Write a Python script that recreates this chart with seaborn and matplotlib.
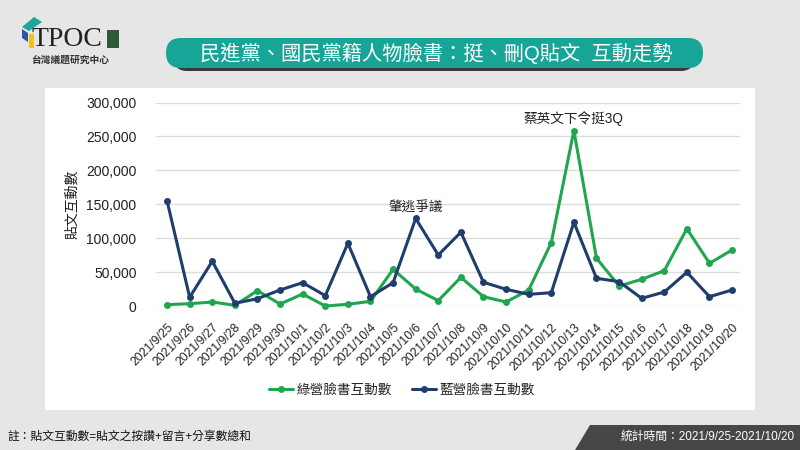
import matplotlib
matplotlib.use("Agg")

import matplotlib.pyplot as plt
import seaborn as sns
import pandas as pd
from matplotlib.patches import FancyBboxPatch, Rectangle, Polygon

# data
dates = ["2021/9/25", "2021/9/26", "2021/9/27", "2021/9/28", "2021/9/29", "2021/9/30",
         "2021/10/1", "2021/10/2", "2021/10/3", "2021/10/4", "2021/10/5", "2021/10/6",
         "2021/10/7", "2021/10/8", "2021/10/9", "2021/10/10", "2021/10/11", "2021/10/12",
         "2021/10/13", "2021/10/14", "2021/10/15", "2021/10/16", "2021/10/17", "2021/10/18",
         "2021/10/19", "2021/10/20"]
green_vals = [2000, 3400, 5900, 1000, 22600, 2900, 17700, 0, 2500, 6900, 54100, 25000,
              7900, 42300, 13700, 5900, 23600, 93400, 258600, 70400, 29500, 39300,
              52100, 114000, 63000, 82600]
blue_vals = [155000, 12800, 66000, 4000, 10800, 23600, 34400, 15200, 92500, 13700, 34400,
             129000, 75200, 108700, 35000, 24600, 17200, 19600, 123400, 40800, 35900,
             11300, 20600, 49700, 13700, 23600]
series_names = ["綠營臉書互動數", "藍營臉書互動數"]
colors = ["#1fa64f", "#1f3d6d"]
notes = [("2021/10/6", 129000, "肇逃爭議"), ("2021/10/13", 258600, "蔡英文下令挺3Q")]

title = "民進黨、國民黨籍人物臉書：挺、刪Q貼文  互動走勢"
footnote = "註：貼文互動數=貼文之按讚+留言+分享數總和"
period = "統計時間：2021/9/25-2021/10/20"


def main():
    sns.set_style("white")
    plt.rcParams["font.family"] = ["Liberation Sans", "Noto Sans CJK TC", "DejaVu Sans"]

    df = pd.DataFrame({
        "date": dates * 2,
        "idx": list(range(len(dates))) * 2,
        "value": green_vals + blue_vals,
        "series": [series_names[0]] * len(dates) + [series_names[1]] * len(dates),
    })

    fig = plt.figure(figsize=(8, 4.5), dpi=100)
    fig.patch.set_facecolor("#e6e6e6")

    # background layer in pixel coordinates
    bg = fig.add_axes([0, 0, 1, 1])
    bg.set_xlim(0, 800)
    bg.set_ylim(450, 0)
    bg.axis("off")
    bg.set_zorder(0)

    bg.add_patch(Rectangle((45, 88), 710, 322, facecolor="white", edgecolor="none"))

    # title banner with shadow
    bg.add_patch(FancyBboxPatch((174, 44), 520, 27,
                                boxstyle="round,pad=0,rounding_size=13",
                                facecolor="#3a3a3a", edgecolor="none"))
    bg.add_patch(FancyBboxPatch((166, 38), 537, 30,
                                boxstyle="round,pad=0,rounding_size=15",
                                facecolor="#17a597", edgecolor="none"))
    bg.text(436, 53, title, color="white", fontsize=14.6, ha="center", va="center")

    # logo
    bg.add_patch(Polygon([(22, 27), (34, 17), (42, 22), (29, 31)],
                         facecolor="#1fa59b", edgecolor="none"))
    bg.add_patch(Polygon([(22, 29), (28, 33), (28, 42), (22, 38)],
                         facecolor="#2a56a8", edgecolor="none"))
    bg.add_patch(Polygon([(29, 34), (34, 34), (34, 48), (29, 48)],
                         facecolor="#f2c21b", edgecolor="none"))
    bg.text(31, 39, "TPOC", family=["Liberation Serif"], fontsize=20,
            color="#222222", va="center", ha="left")
    bg.add_patch(Rectangle((107, 30), 12, 18, facecolor="#2e5a3a", edgecolor="none"))
    bg.text(70, 60, "台灣議題研究中心", fontsize=7, color="#333333",
            ha="center", va="center", fontweight="bold")

    # footer
    bg.text(8, 437, footnote, fontsize=8.5, color="#111111", ha="left", va="center")
    bg.add_patch(Polygon([(590, 425), (800, 425), (800, 450), (575, 450)],
                         facecolor="#474747", edgecolor="none"))
    bg.text(795, 437, period, fontsize=8.5, color="white", ha="right", va="center")

    ax = fig.add_axes([156 / 800, 1 - 306 / 450, 584 / 800, 203.5 / 450])
    ax.set_zorder(1)
    ax.set_facecolor("none")
    sns.lineplot(data=df, x="idx", y="value", hue="series", palette=colors,
                 marker="o", markersize=5, markeredgewidth=0, linewidth=2.2,
                 ax=ax, clip_on=False)

    ax.set_xlim(-0.49, 25.35)
    ax.set_ylim(0, 300000)
    ax.set_yticks(range(0, 300001, 50000))
    ax.set_yticklabels([f"{v:,}" for v in range(0, 300001, 50000)], fontsize=10,
                       color="#222222")
    ax.set_xticks(range(len(dates)))
    ax.set_xticklabels(dates, rotation=45, ha="right", rotation_mode="anchor",
                       fontsize=8.7, color="#222222")
    ax.tick_params(axis="y", length=0, pad=14)
    ax.tick_params(axis="x", length=0, pad=11)
    ax.grid(axis="y", color="#dcdcdc", linewidth=1)
    for s in ax.spines.values():
        s.set_visible(False)
    ax.set_xlabel("")
    ax.set_ylabel("貼文互動數", fontsize=10, color="#222222", labelpad=5)

    for d, v, label in notes:
        ax.annotate(label, (dates.index(d), v), xytext=(0, 3),
                    textcoords="offset points", ha="center", va="bottom",
                    fontsize=9.8, color="#222222")

    ax.legend(loc="center", bbox_to_anchor=(402 / 800, 1 - 390 / 450),
              bbox_transform=fig.transFigure, ncol=2, frameon=False, fontsize=9.8,
              handlelength=1.75, columnspacing=1.5, handletextpad=0.25)

    fig.savefig("out.png", dpi=100, facecolor=fig.get_facecolor())
    plt.close(fig)


if __name__ == "__main__":
    main()
